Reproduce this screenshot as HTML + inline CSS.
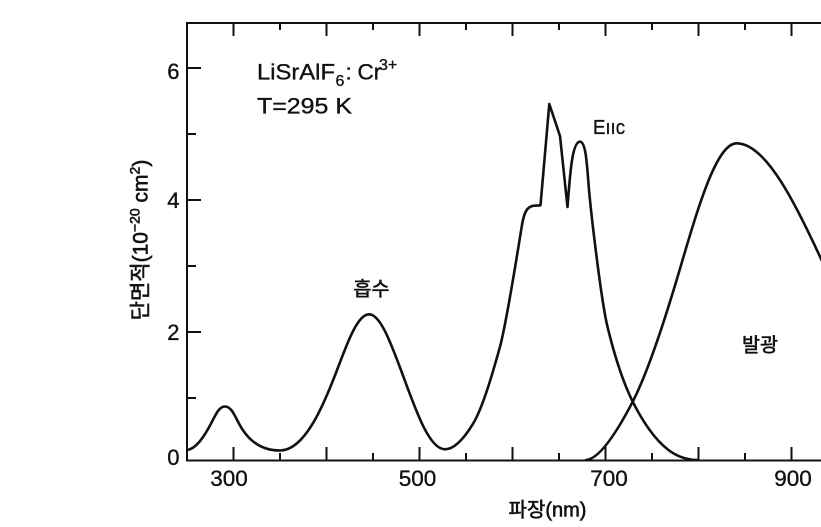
<!DOCTYPE html>
<html>
<head>
<meta charset="utf-8">
<style>
  html,body{margin:0;padding:0;background:#fff;}
  svg{display:block;}
  text{font-family:"Liberation Sans","Noto Sans CJK KR",sans-serif;fill:#111;stroke:#111;stroke-width:0.35px;}
  .kr{font-family:"Liberation Sans","Noto Sans CJK KR","NanumGothic",sans-serif;stroke-width:0.6px;}
</style>
</head>
<body>
<svg width="821" height="527" viewBox="0 0 821 527" xmlns="http://www.w3.org/2000/svg">
  <rect x="0" y="0" width="821" height="527" fill="#fff"/>
  <defs>
    <clipPath id="plot"><rect x="187" y="23" width="634" height="438"/></clipPath>
  </defs>

  <!-- frame -->
  <path d="M187,22 V461 M186,23 H821 M186,460.5 H821" stroke="#111" stroke-width="2" fill="none"/>

  <!-- bottom ticks -->
  <g stroke="#111" stroke-width="2">
    <line x1="233.5" y1="460" x2="233.5" y2="447"/>
    <line x1="280" y1="460" x2="280" y2="453"/>
    <line x1="326.5" y1="460" x2="326.5" y2="447"/>
    <line x1="373" y1="460" x2="373" y2="453"/>
    <line x1="419.5" y1="460" x2="419.5" y2="447"/>
    <line x1="466" y1="460" x2="466" y2="453"/>
    <line x1="512.5" y1="460" x2="512.5" y2="447"/>
    <line x1="559" y1="460" x2="559" y2="453"/>
    <line x1="605.5" y1="460" x2="605.5" y2="447"/>
    <line x1="652" y1="460" x2="652" y2="453"/>
    <line x1="698.5" y1="460" x2="698.5" y2="447"/>
    <line x1="745" y1="460" x2="745" y2="453"/>
    <line x1="791.5" y1="460" x2="791.5" y2="447"/>
  </g>
  <!-- top ticks -->
  <g stroke="#111" stroke-width="2">
    <line x1="233.5" y1="23" x2="233.5" y2="36"/>
    <line x1="280" y1="23" x2="280" y2="30"/>
    <line x1="326.5" y1="23" x2="326.5" y2="36"/>
    <line x1="373" y1="23" x2="373" y2="30"/>
    <line x1="419.5" y1="23" x2="419.5" y2="36"/>
    <line x1="466" y1="23" x2="466" y2="30"/>
    <line x1="512.5" y1="23" x2="512.5" y2="36"/>
    <line x1="559" y1="23" x2="559" y2="30"/>
    <line x1="605.5" y1="23" x2="605.5" y2="36"/>
    <line x1="652" y1="23" x2="652" y2="30"/>
    <line x1="698.5" y1="23" x2="698.5" y2="36"/>
    <line x1="745" y1="23" x2="745" y2="30"/>
    <line x1="791.5" y1="23" x2="791.5" y2="36"/>
  </g>
  <!-- left ticks -->
  <g stroke="#111" stroke-width="2">
    <line x1="187" y1="68" x2="201" y2="68"/>
    <line x1="187" y1="134" x2="196" y2="134"/>
    <line x1="187" y1="200" x2="201" y2="200"/>
    <line x1="187" y1="266" x2="196" y2="266"/>
    <line x1="187" y1="332" x2="201" y2="332"/>
    <line x1="187" y1="398" x2="196" y2="398"/>
  </g>

  <!-- y tick labels -->
  <g font-size="22" text-anchor="end">
    <text x="179.5" y="79">6</text>
    <text x="179.5" y="208">4</text>
    <text x="179.5" y="340">2</text>
    <text x="179.5" y="465">0</text>
  </g>
  <!-- x tick labels -->
  <g font-size="22.5" text-anchor="middle">
    <text x="229" y="486">300</text>
    <text x="417.5" y="486">500</text>
    <text x="609" y="486">700</text>
    <text x="793" y="486">900</text>
  </g>

  <!-- axis titles -->
  <text class="kr" x="547.5" y="516.5" font-size="20" text-anchor="middle">파장(nm)</text>
  <text class="kr" transform="translate(147.5,240) rotate(-90)" font-size="21" text-anchor="middle">단면적(10<tspan font-size="14" dy="-8">−20</tspan><tspan dy="8"> cm</tspan><tspan font-size="14" dy="-8">2</tspan><tspan dy="8">)</tspan></text>

  <!-- annotations -->
  <text x="257" y="79.5" font-size="22.5" textLength="78" lengthAdjust="spacingAndGlyphs">LiSrAlF</text>
  <text x="335.5" y="86" font-size="16">6</text>
  <text x="345.5" y="79.5" font-size="22.5">:</text>
  <text x="357.5" y="79.5" font-size="22.5">Cr</text>
  <text x="379" y="70" font-size="16">3+</text>
  <text x="257" y="113.5" font-size="22.5" textLength="95" lengthAdjust="spacingAndGlyphs">T=295 K</text>

  <text x="593" y="134" font-size="20" textLength="32" lengthAdjust="spacingAndGlyphs">Eııc</text>

  <text class="kr" x="371.5" y="295.5" font-size="19.5" text-anchor="middle">흡수</text>
  <text class="kr" x="760" y="351.5" font-size="19.5" text-anchor="middle">발광</text>

  <!-- curves -->
  <g clip-path="url(#plot)" fill="none" stroke="#111" stroke-width="2.6" stroke-linejoin="round" stroke-linecap="round">
    <!-- absorption -->
    <path d="M187,450
      C196,449 204,436.8 211,423.6
      C216,414 219,406.5 225,406.5
      C231,406.5 234,414 239,423.6
      C244,433 255,450.5 280,450.5
      C305,450.5 324,404.7 338,367.5
      C348,340.9 358,314.3 369,314.3
      C380,314.3 390,340.9 400,367.5
      C414,404.7 428,449.3 445,449.3
      C455,449.3 465,437 473.3,423.3
      C483,407 493,372 500,346.7
      C506,325 516,262 521.7,226.7
      C524,212 527,207 533,205.8
      L540.5,205.3
      L549.3,104
      L560,136
      L567.5,207
      C570,175 572,141.7 580,141.7
      C586,141.7 587,165 589,190
      C592,222 601,297 606.7,323.3
      C613,350 622,380 632.7,401.7
      C644,424 658,444 673.3,453.3
      C682,458.5 690,460 698,460"/>
    <!-- emission -->
    <path d="M586,460
      C600,459 618,430 632.7,401.7
      C648,372 665,319.7 680.2,268
      C699,204 717,143.3 736.7,143.3
      C766,143.3 796,203.7 825.2,268"/>
  </g>
</svg>
</body>
</html>
